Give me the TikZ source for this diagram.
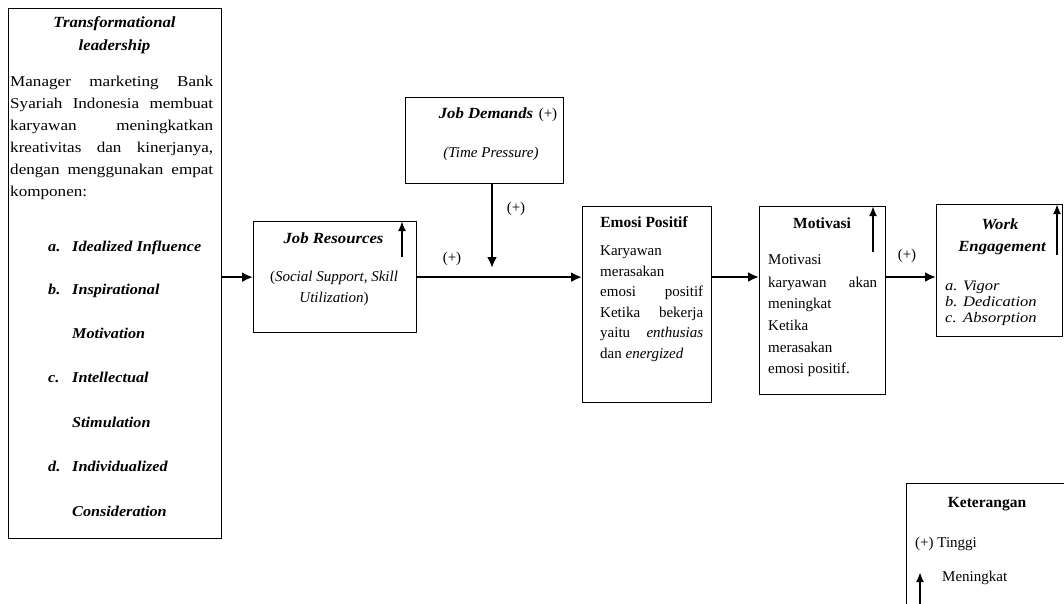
\documentclass[tikz,border=0pt]{standalone}
\usepackage{fontspec}
\setmainfont{Liberation Serif}
\newfontfamily\widefont{Liberation Serif}[FakeStretch=1.14]
\newfontfamily\midfont{Liberation Serif}[FakeStretch=1.08]
\usetikzlibrary{arrows.meta}
\tikzset{
  box/.style={draw, line width=1.3pt, inner sep=0pt, anchor=north west},
  txt/.style={inner sep=0pt, anchor=base west, font=\fontsize{15}{17}\selectfont},
  ctxt/.style={txt, anchor=base},
  para/.style={txt, font=\fontsize{15}{17}\selectfont\widefont},
  hd/.style={ctxt, font=\fontsize{15.5}{17}\selectfont\bfseries},
  ttl/.style={ctxt, font=\fontsize{15.5}{17}\selectfont\midfont\bfseries\itshape},
  itm/.style={txt, font=\fontsize{15}{17}\selectfont\midfont\bfseries\itshape},
  wel/.style={txt, font=\fontsize{14.5}{17}\selectfont\widefont\itshape},
  arr/.style={line width=2.3pt, -{Latex[length=11pt,width=10pt]}},
  uparr/.style={line width=2pt, -{Latex[length=10pt,width=8pt]}},
}
\begin{document}
\begin{tikzpicture}[x=1pt,y=-1pt]
\clip (0,0) rectangle (1064,603);
% boxes
\node[box, minimum width=213pt, minimum height=530pt] (tl) at (8,8) {};
\node[box, minimum width=163pt, minimum height=111pt] (jr) at (253,221) {};
\node[box, minimum width=158pt, minimum height=86pt] (jd) at (405,97) {};
\node[box, minimum width=129pt, minimum height=196pt] (ep) at (582,206) {};
\node[box, minimum width=126pt, minimum height=188pt] (mot) at (759,206) {};
\node[box, minimum width=126pt, minimum height=132pt] (we) at (936,204) {};
\node[box, minimum width=170pt, minimum height=140pt] (ket) at (906,483) {};
% Transformational leadership
\node[ttl] (tl1) at (114.5,27) {Transformational};
\node[ttl] (tl2) at (114.5,50) {leadership};
\node[para] (tp1) at (10,86.5) {\makebox[203pt][s]{Manager marketing Bank}};
\node[para] (tp2) at (10,108.5) {\makebox[203pt][s]{Syariah Indonesia membuat}};
\node[para] (tp3) at (10,130.5) {\makebox[203pt][s]{karyawan meningkatkan}};
\node[para] (tp4) at (10,152.5) {\makebox[203pt][s]{kreativitas dan kinerjanya,}};
\node[para] (tp5) at (10,174.5) {\makebox[203pt][s]{dengan menggunakan empat}};
\node[para] (tp6) at (10,196.5) {komponen:};
\node[itm] (la) at (48,251.5) {a.};
\node[itm] (lat) at (72,251.5) {Idealized Influence};
\node[itm] (lb) at (48,294.5) {b.};
\node[itm] (lbt) at (72,294.5) {Inspirational};
\node[itm] (lbt2) at (72,338.5) {Motivation};
\node[itm] (lc) at (48,382.5) {c.};
\node[itm] (lct) at (72,382.5) {Intellectual};
\node[itm] (lct2) at (72,427.5) {Stimulation};
\node[itm] (ld) at (48,471.5) {d.};
\node[itm] (ldt) at (72,471.5) {Individualized};
\node[itm] (ldt2) at (72,516.5) {Consideration};
% Job Resources
\node[ttl] (jr1) at (333.5,243.5) {Job Resources};
\node[ctxt] (jr2) at (334,281.5) {(\textit{Social Support, Skill}};
\node[ctxt] (jr3) at (334,302.5) {\textit{Utilization})};
\coordinate (jrup) at (402,257);
\draw[uparr] (jrup) -- (jrup |- jr.north);
% Job Demands
\node[ttl] (jd1) at (486,118.5) {Job Demands};
\node[ctxt] (jd2) at (548,118.5) {(+)};
\node[ctxt] (jd3) at (491,157.5) {\textit{(Time Pressure)}};
% Emosi Positif
\node[hd] (ep1) at (644,227.5) {Emosi Positif};
\node[txt] (ep2) at (600,255.5) {Karyawan};
\node[txt] (ep3) at (600,276) {merasakan};
\node[txt] (ep4) at (600,296.5) {\makebox[103pt][s]{emosi positif}};
\node[txt] (ep5) at (600,317) {\makebox[103pt][s]{Ketika bekerja}};
\node[txt] (ep6) at (600,337.5) {\makebox[103pt][s]{yaitu \textit{enthusias}}};
\node[txt] (ep7) at (600,358) {dan \textit{energized}};
% Motivasi
\node[hd] (m1) at (822,228.5) {Motivasi};
\coordinate (mup) at (873,252);
\draw[uparr] (mup) -- (mup |- mot.north);
\node[txt] (m2) at (768,264.5) {Motivasi};
\node[txt] (m3) at (768,287.5) {\makebox[109pt][s]{karyawan akan}};
\node[txt] (m4) at (768,308.5) {meningkat};
\node[txt] (m5) at (768,330.5) {Ketika};
\node[txt] (m6) at (768,352.5) {merasakan};
\node[txt] (m7) at (768,373.5) {emosi positif.};
% Work Engagement
\node[ttl] (w1) at (1000,229.5) {Work};
\node[ttl] (w2) at (1002,251.5) {Engagement};
\coordinate (wup) at (1057,255);
\draw[uparr] (wup) -- (wup |- we.north);
\node[wel] (wa) at (945,290.5) {a.};
\node[wel] (wat) at (963,290.5) {Vigor};
\node[wel] (wb) at (945,306.5) {b.};
\node[wel] (wbt) at (963,306.5) {Dedication};
\node[wel] (wc) at (945,322.5) {c.};
\node[wel] (wct) at (963,322.5) {Absorption};
% Keterangan
\node[hd] (k1) at (987,507.5) {Keterangan};
\node[txt] (k2) at (915,547.5) {(+) Tinggi};
\node[txt] (k3) at (942,581.5) {Meningkat};
\coordinate (kup) at (920,572);
\draw[uparr] (kup |- ket.south) -- (kup);
% connectors
\coordinate (ly) at (0,277);
\coordinate (jdx) at (492,268);
\draw[arr] (tl.east |- jr.west) -- (jr.west);
\draw[arr] (jr.east) -- (jr.east -| ep.west);
\draw[arr] (jdx |- jd.south) -- (jdx);
\draw[arr] (ep.east |- ly) -- (mot.west |- ly);
\draw[arr] (mot.east |- ly) -- (we.west |- ly);
\node[ctxt] (p1) at (452,262.5) {(+)};
\node[ctxt] (p2) at (516,212.5) {(+)};
\node[ctxt] (p3) at (907,259.5) {(+)};
\end{tikzpicture}
\end{document}
